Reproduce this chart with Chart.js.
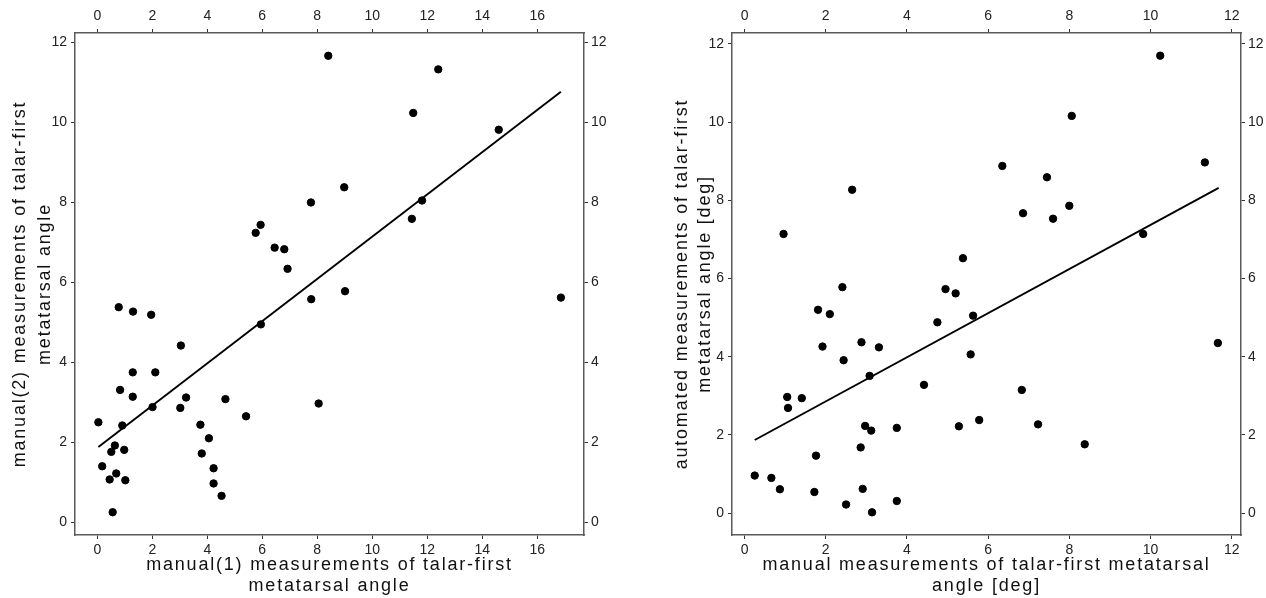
<!DOCTYPE html>
<html>
<head>
<meta charset="utf-8">
<script src="https://cdn.jsdelivr.net/npm/chart.js@4/dist/chart.umd.min.js"></script>
<style>
  body { margin: 0; background: #fff; }
  .panel { position: absolute; top: 0; }
</style>
</head>
<body>
<canvas id="leftChart" class="panel" style="left:0" width="633" height="598"></canvas>
<canvas id="rightChart" class="panel" style="left:633px" width="633" height="598"></canvas>
<script>
// left panel: manual(1) vs manual(2)
const leftX = [0.04, 0.18, 0.45, 0.51, 0.56, 0.64, 0.69, 0.78, 0.83, 0.91, 0.98, 1.02,
  1.30, 1.29, 1.29, 1.96, 2.01, 2.11, 3.04, 3.02, 3.23, 3.75, 3.80, 4.06, 4.23, 4.23,
  4.52, 4.66, 5.41, 5.95, 5.76, 5.94, 6.45, 6.80, 6.92, 7.77, 7.78, 8.05, 8.40, 8.98,
  9.01, 11.44, 11.49, 11.81, 12.40, 14.60, 16.86];
const leftY = [2.50, 1.40, 1.07, 1.76, 0.25, 1.92, 1.22, 5.38, 3.31, 2.42, 1.81, 1.05,
  5.27, 3.75, 3.14, 5.19, 2.88, 3.75, 4.42, 2.86, 3.12, 2.44, 1.72, 2.10, 1.35, 0.97,
  0.66, 3.08, 2.65, 4.95, 7.24, 7.44, 6.87, 6.83, 6.34, 8.00, 5.58, 2.97, 11.67, 8.38,
  5.78, 7.59, 10.24, 8.05, 11.33, 9.82, 5.62];
const leftFitX = [0.04, 16.86];
const leftFitY = [1.88, 10.77];

// right panel: manual vs automated
const rightX = [0.25, 0.66, 0.87, 0.96, 1.05, 1.07, 1.41, 1.72, 1.76, 1.81, 1.92, 2.10,
  2.41, 2.44, 2.50, 2.65, 2.88, 2.86, 2.91, 2.97, 3.08, 3.12, 3.14, 3.31, 3.75, 3.75,
  4.42, 4.75, 4.95, 5.20, 5.28, 5.38, 5.57, 5.63, 5.78, 6.35, 6.83, 6.86, 7.23, 7.45,
  7.60, 8.00, 8.06, 8.38, 9.82, 10.24, 11.34, 11.66];
const rightY = [0.96, 0.90, 0.61, 7.14, 2.97, 2.69, 2.94, 0.54, 1.47, 5.20, 4.26, 5.09,
  5.78, 3.91, 0.22, 8.27, 4.37, 1.68, 0.62, 2.23, 3.51, 2.11, 0.02, 4.24, 2.18, 0.31,
  3.28, 4.88, 5.73, 5.62, 2.22, 6.52, 4.06, 5.05, 2.38, 8.88, 3.15, 7.67, 2.27, 8.59,
  7.53, 7.86, 10.16, 1.76, 7.14, 11.70, 8.97, 4.35];
const rightFitX = [0.25, 11.68];
const rightFitY = [1.87, 8.32];

const leftXTitle = ['manual(1) measurements of talar-first', 'metatarsal angle'];
const leftYTitle = ['manual(2) measurements of talar-first', 'metatarsal angle'];
const rightXTitle = ['manual measurements of talar-first metatarsal', 'angle [deg]'];
const rightYTitle = ['automated measurements of talar-first', 'metatarsal angle [deg]'];

const FONT = "'Liberation Sans', Arial, sans-serif";

// axis titles in the reference are letter-spaced
const spacedTitles = {
    id: 'spacedTitles',
    beforeDraw(chart) {
        Object.values(chart.scales).forEach(scale => {
            if (scale._spaced) return;
            const orig = scale.drawTitle;
            scale.drawTitle = function () {
                this.ctx.save();
                this.ctx.letterSpacing = '1.8px';
                orig.apply(this, arguments);
                this.ctx.restore();
            };
            scale._spaced = true;
        });
    }
};

function toPoints(xs, ys) {
    return xs.map((x, i) => ({ x, y: ys[i] }));
}

function axis(position, min, max, size, title, padTick, titlePad, titleLH) {
    const horizontal = position === 'top' || position === 'bottom';
    const opts = {
        type: 'linear',
        position,
        min, max,
        border: { display: true, color: '#5a5a5a', width: 1.5 },
        grid: { drawOnChartArea: false, drawTicks: true, tickLength: 4, color: '#333', lineWidth: 1 },
        ticks: {
            stepSize: 2,
            includeBounds: false,
            color: '#222',
            padding: padTick,
            maxRotation: 0,
            font: { family: FONT, size: 14 }
        },
        afterFit: s => { if (horizontal) s.height = size; else s.width = size; }
    };
    if (title) {
        opts.title = {
            display: true,
            text: title,
            color: '#111',
            font: { family: FONT, size: 18, lineHeight: horizontal ? 1.2 : titleLH },
            padding: horizontal ? { top: 0, bottom: 1 } : { top: titlePad, bottom: 0 }
        };
    }
    return opts;
}

function makeChart(id, pts, fitPts, xr, yr, widths, xTitle, yTitle, yTitlePad, yTitleLH) {
    new Chart(document.getElementById(id), {
        type: 'scatter',
        data: {
            datasets: [{
                data: pts,
                xAxisID: 'x', yAxisID: 'y',
                backgroundColor: '#000',
                borderColor: '#000',
                pointRadius: 3.7,
                pointHoverRadius: 3.7
            }, {
                data: fitPts,
                xAxisID: 'x', yAxisID: 'y',
                showLine: true,
                borderColor: '#000',
                borderWidth: 1.9,
                pointRadius: 0
            }]
        },
        options: {
            responsive: false,
            animation: false,
            layout: { padding: 0 },
            plugins: { legend: { display: false }, tooltip: { enabled: false } },
            scales: {
                x: axis('bottom', xr[0], xr[1], 63, xTitle, 3),
                x2: axis('top', xr[0], xr[1], 33, null, 4),
                y: axis('left', yr[0], yr[1], widths[0], yTitle, 4, yTitlePad, yTitleLH),
                y2: axis('right', yr[0], yr[1], widths[1], null, 3)
            }
        },
        plugins: [spacedTitles]
    });
}

makeChart('leftChart', toPoints(leftX, leftY), toPoints(leftFitX, leftFitY),
    [-0.81, 17.7], [-0.32, 12.24], [75, 49], leftXTitle, leftYTitle, 7, 1.4);
makeChart('rightChart', toPoints(rightX, rightY), toPoints(rightFitX, rightFitY),
    [-0.31, 12.23], [-0.56, 12.28], [99, 25], rightXTitle, rightYTitle, 37, 1.3);
</script>
</body>
</html>
